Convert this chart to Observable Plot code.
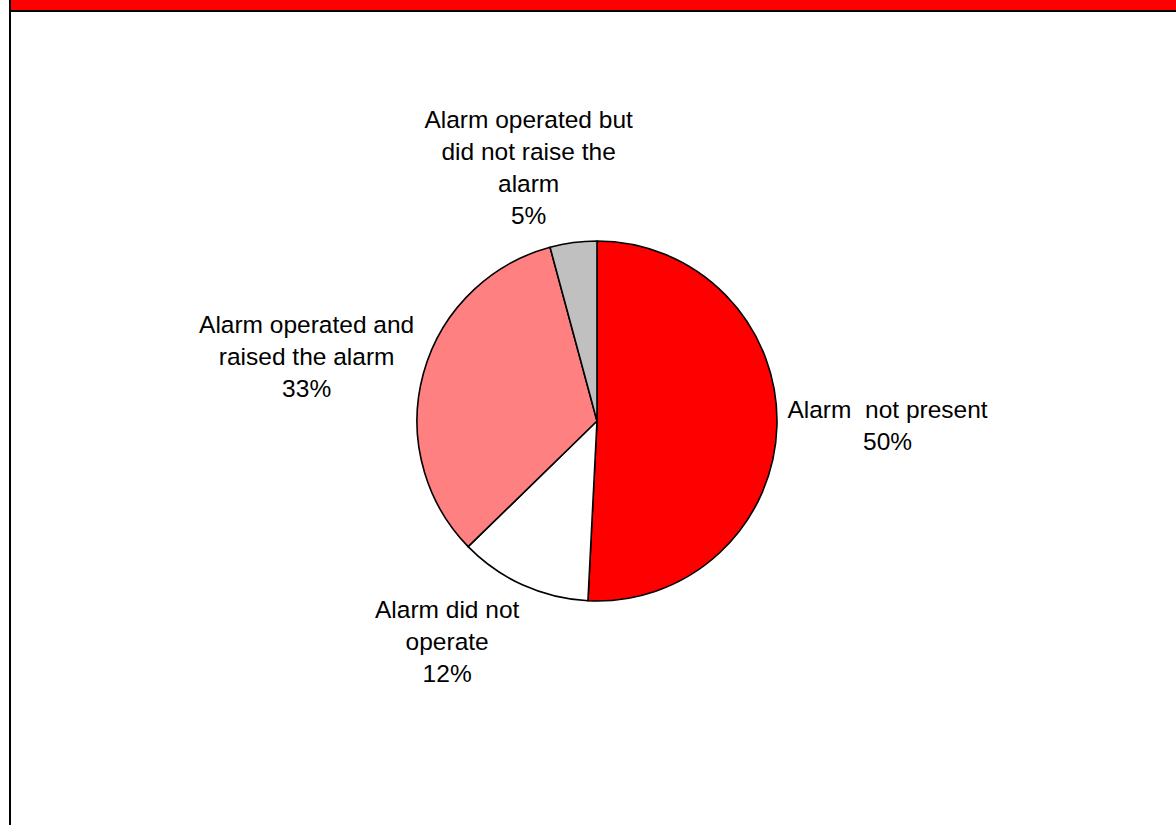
<!DOCTYPE html>
<html>
<head>
<meta charset="utf-8">
<script src="https://cdn.jsdelivr.net/npm/d3@7"></script>
<script src="https://cdn.jsdelivr.net/npm/@observablehq/plot@0.6"></script>
<style>
  html, body { margin: 0; padding: 0; background: #ffffff; }
  #wrap { position: relative; width: 1176px; height: 825px; overflow: hidden; background: #ffffff; }
  #wrap > svg { position: absolute; left: 0; top: 0; }
  .redbar { position: absolute; left: 11px; top: 0; width: 1165px; height: 10px; background: #ff0000; }
  .hline { position: absolute; left: 9px; top: 10px; width: 1167px; height: 2px; background: #000000; }
  .vline { position: absolute; left: 9px; top: 0; width: 2px; height: 825px; background: #000000; }
</style>
</head>
<body>
<div id="wrap">
  <div class="redbar"></div>
  <div class="hline"></div>
  <div class="vline"></div>
</div>
<script>
// ---- data ----
const categories = [
  "Alarm\u00a0 not present",
  "Alarm did not\noperate",
  "Alarm operated and\nraised the alarm",
  "Alarm operated but\ndid not raise the\nalarm"
];
const values = [50.8, 11.9, 33.1, 4.2];
const percentLabels = ["50%", "12%", "33%", "5%"];

// ---- styles / layout ----
const palette = ["#FF0000", "#FFFFFF", "#FF8080", "#C0C0C0"];
const FONT_SIZE = 24.5;
const LINE_HEIGHT = 1.31;
const FONT = "Arial, 'Liberation Sans', sans-serif";
const X_RANGE = [417, 777];   // pie spans x domain [-1, 1]
const Y_RANGE = [601, 241];   // pie spans y domain [-1, 1]
const R_PX = (X_RANGE[1] - X_RANGE[0]) / 2;
const LABEL_GAP = 10;         // px gap between pie edge and label box

const rows = categories.map((c, i) => ({category: c, value: values[i], pct: percentLabels[i], color: palette[i]}));
const arcs = d3.pie().sort(null).value(d => d.value)(rows);

// measure label boxes for "outside end" placement
const ctx = document.createElement("canvas").getContext("2d");
ctx.font = `${FONT_SIZE}px Arial`;
const clamp = (v, a, b) => Math.max(a, Math.min(b, v));
const labelRows = arcs.map(a => {
  const text = a.data.category + "\n" + a.data.pct;
  const lines = text.split("\n");
  const w = d3.max(lines, l => ctx.measureText(l).width);
  const h = lines.length * FONT_SIZE * LINE_HEIGHT;
  const mid = (a.startAngle + a.endAngle) / 2;
  const ux = Math.sin(mid), uy = Math.cos(mid);
  const ra = 1 + LABEL_GAP / R_PX;
  return {
    text,
    lx: ra * ux + (w / 2) * clamp(3.2 * ux, -1, 1) / R_PX,
    ly: ra * uy + (h / 2) * clamp(1.1 * uy, -1, 1) / R_PX
  };
});

function pieMark(index, scales) {
  const sx = scales.x, sy = scales.y;
  const cx = sx(0), cy = sy(0), r = sx(1) - sx(0);
  const arc = d3.arc().innerRadius(0).outerRadius(r);
  const g = d3.create("svg:g").attr("transform", `translate(${cx},${cy})`);
  g.selectAll("path")
    .data(arcs)
    .join("path")
    .attr("d", arc)
    .attr("fill", d => d.data.color)
    .attr("stroke", "#000000")
    .attr("stroke-width", 1.6)
    .attr("stroke-linejoin", "round");
  return g.node();
}

const chart = Plot.plot({
  width: 1176,
  height: 825,
  margin: 0,
  x: {domain: [-1, 1], range: X_RANGE, axis: null},
  y: {domain: [-1, 1], range: Y_RANGE, axis: null},
  style: {background: "transparent", overflow: "visible", fontFamily: FONT},
  marks: [
    pieMark,
    Plot.text(labelRows, {
      x: "lx",
      y: "ly",
      text: "text",
      fontSize: FONT_SIZE,
      lineHeight: LINE_HEIGHT,
      fontFamily: FONT,
      fill: "#000000",
      textAnchor: "middle",
      lineAnchor: "middle",
      dy: -3
    })
  ]
});
document.getElementById("wrap").appendChild(chart);
</script>
</body>
</html>
